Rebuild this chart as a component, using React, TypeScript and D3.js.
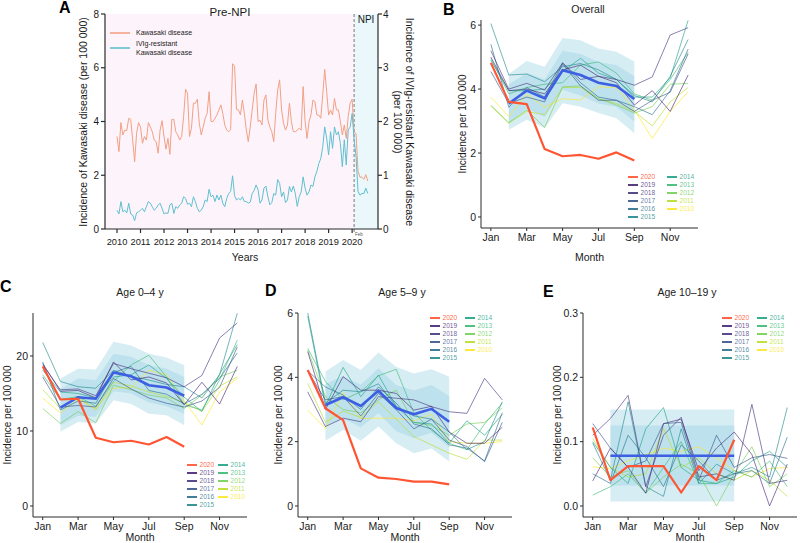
import * as d3 from "d3";

const FONT = "'Liberation Sans', Arial, Helvetica, sans-serif";

// ---------- shared ----------
const years = [2010, 2011, 2012, 2013, 2014, 2015, 2016, 2017, 2018, 2019];
const yearColors = ["#FDE725", "#B8DE29", "#73D055", "#3CBB75", "#20A387", "#238A8D", "#2D708E", "#39568C", "#453781", "#482677"];
const red2020 = "#FF5533";
const meanBlue = "#3D5FE3";
const bandFill = "#8CCBE0";

const monthTickValues = [1, 3, 5, 7, 9, 11];
const monthTickLabels = ["Jan", "Mar", "May", "Jul", "Sep", "Nov"];
const bandMonths = [2, 3, 4, 5, 6, 7, 8, 9];

// ---------- panel A: monthly series Jan 2010 - Sep 2020 ----------
const yearTicks = [2010, 2011, 2012, 2013, 2014, 2015, 2016, 2017, 2018, 2019, 2020];
const kawasakiMonthly = [
  3.44, 2.88, 3.96, 3.5, 3.68, 3.66, 4.12, 4.08, 3.31, 2.5, 3.56, 3.96,
  3.8, 3.19, 3.44, 3.31, 3.96, 3.8, 3.62, 3.31, 3.25, 2.82, 3.68, 4.03,
  3.44, 2.97, 3.37, 2.78, 4.08, 4.08, 3.62, 3.5, 3.31, 3.44, 4.18, 5.2,
  5.05, 3.44, 3.75, 4.68, 4.68, 4.83, 3.93, 3.5, 3.8, 4.12, 4.3, 5.11,
  4.0, 4.0, 4.12, 4.24, 4.43, 4.62, 4.3, 3.87, 3.68, 3.62, 3.7, 6.15,
  6.05, 4.45, 4.43, 4.25, 4.8, 4.3, 3.68, 3.25, 3.8, 4.43, 5.05, 5.4,
  4.0, 4.05, 3.87, 4.8, 4.99, 4.05, 3.8, 3.62, 3.25, 4.3, 5.17, 5.55,
  4.43, 3.93, 3.68, 3.87, 4.68, 4.0, 3.62, 3.62, 3.68, 3.75, 3.68, 5.3,
  4.0, 3.37, 4.0, 4.24, 4.8, 4.74, 4.24, 4.24, 4.12, 4.99, 5.94, 5.11,
  4.24, 4.43, 4.24, 4.86, 4.43, 4.43, 4.0, 3.5, 3.87, 3.37, 4.18, 4.68,
  4.83, 3.6, 3.55, 2.15, 1.93, 1.93, 1.85, 2.02, 1.78,
];
const ivigMonthly = [
  0.35, 0.28, 0.51, 0.32, 0.35, 0.3, 0.48, 0.28, 0.26, 0.155, 0.3, 0.32,
  0.35, 0.385, 0.32, 0.415, 0.51, 0.48, 0.415, 0.35, 0.385, 0.447, 0.48, 0.385,
  0.28, 0.3, 0.29, 0.447, 0.48, 0.29, 0.415, 0.385, 0.447, 0.48, 0.6, 0.57,
  0.46, 0.48, 0.415, 0.6, 0.51, 0.385, 0.32, 0.35, 0.415, 0.54, 0.51, 0.74,
  0.6, 0.63, 0.51, 0.63, 0.54, 0.63, 0.48, 0.415, 0.57, 0.66, 0.7, 0.99,
  0.62, 0.54, 0.57, 0.54, 0.6, 0.51, 0.51, 0.48, 0.5, 0.66, 0.72, 0.82,
  0.73, 0.48, 0.54, 0.76, 0.8, 0.6, 0.45, 0.49, 0.66, 0.63, 0.92, 0.85,
  0.6, 0.69, 0.49, 0.54, 0.79, 0.69, 0.8, 0.66, 0.42, 0.6, 0.69, 0.97,
  0.76, 0.63, 0.69, 0.82, 0.79, 0.97, 1.07, 1.22, 1.31, 1.53, 1.9, 1.69,
  1.38, 1.81, 1.5, 1.9, 1.75, 1.81, 1.59, 1.16, 1.66, 1.19, 1.84, 1.9,
  2.15, 1.66, 1.35, 0.7, 0.63, 0.66, 0.66, 0.76, 0.66,
];

// ---------- panel B: overall ----------
const overallYears = [
  [3.75, 3.14, 3.85, 3.43, 3.7, 3.66, 4.07, 4.05, 3.35, 2.46, 3.3, 3.92],
  [3.47, 2.93, 3.3, 3.2, 4.05, 4.05, 3.7, 3.55, 3.3, 2.85, 3.6, 4.05],
  [3.5, 2.95, 3.35, 2.8, 4.07, 4.1, 3.7, 3.5, 3.25, 3.45, 4.15, 4.18],
  [4.95, 3.85, 4.05, 4.15, 4.2, 4.75, 4.85, 4.5, 3.85, 3.65, 4.3, 5.15],
  [4.9, 3.95, 3.95, 4.0, 4.55, 4.96, 4.5, 4.3, 3.75, 3.75, 4.35, 6.15],
  [6.05, 4.44, 4.47, 4.23, 4.7, 4.8, 4.6, 4.3, 3.8, 3.6, 4.4, 5.55],
  [5.4, 3.43, 4.05, 3.75, 4.82, 4.2, 3.75, 3.65, 3.45, 3.2, 3.95, 5.25],
  [4.55, 3.55, 3.75, 3.6, 4.78, 4.1, 3.65, 3.65, 3.3, 3.65, 3.9, 5.1],
  [5.2, 4.0, 4.18, 3.97, 4.82, 4.3, 4.4, 4.3, 4.12, 4.38, 5.69, 5.92],
  [5.0, 3.95, 4.0, 3.85, 4.6, 4.75, 4.4, 4.2, 3.5, 3.95, 3.3, 4.44],
];
const overall2020 = [4.82, 3.6, 3.53, 2.125, 1.9, 1.94, 1.82, 2.02, 1.77];
const overallMean = [3.55, 3.95, 3.71, 4.59, 4.44, 4.2, 4.1, 3.69];
const overallOuterHi = [4.47, 4.88, 4.7, 5.6, 5.53, 5.27, 5.17, 4.86];
const overallOuterLo = [2.73, 3.04, 2.78, 3.56, 3.45, 3.25, 3.09, 2.62];
const overallInnerHi = [4.15, 4.5, 4.3, 5.2, 5.1, 4.85, 4.75, 4.4];
const overallInnerLo = [2.95, 3.4, 3.12, 3.98, 3.8, 3.55, 3.45, 2.98];

// ---------- panel C: age 0-4 ----------
const age04Years = [
  [14.4, 12.4, 14.2, 13.0, 15.7, 15.8, 18.1, 17.5, 14.0, 10.8, 15.2, 17.0],
  [15.5, 13.0, 14.5, 12.8, 16.5, 16.0, 15.2, 14.6, 13.8, 12.6, 16.0, 17.2],
  [13.0, 11.0, 12.6, 11.1, 16.1, 15.5, 14.8, 14.4, 13.0, 14.8, 17.2, 18.1],
  [17.5, 14.2, 14.6, 13.3, 16.6, 18.8, 20.1, 17.2, 13.5, 12.8, 16.8, 22.1],
  [18.1, 15.2, 15.0, 14.4, 17.2, 17.5, 18.8, 17.0, 14.5, 12.6, 17.6, 21.5],
  [21.8, 16.6, 15.9, 15.7, 18.1, 17.3, 16.8, 16.2, 15.9, 14.4, 17.5, 25.7],
  [19.2, 12.8, 14.0, 13.7, 17.8, 18.6, 15.4, 14.9, 13.6, 14.9, 17.0, 20.4],
  [17.2, 13.2, 13.4, 13.2, 17.0, 15.6, 14.4, 13.7, 13.2, 14.0, 15.8, 21.2],
  [18.8, 15.5, 15.6, 14.7, 19.0, 18.3, 17.7, 17.1, 15.9, 17.4, 22.4, 24.4],
  [19.0, 15.3, 15.4, 14.4, 19.2, 16.8, 17.2, 16.4, 13.5, 16.5, 13.6, 18.6],
];
const age04_2020 = [18.6, 14.2, 14.3, 9.1, 8.5, 8.7, 8.2, 9.2, 7.9];
const age04Mean = [13.1, 14.5, 14.3, 17.8, 17.3, 16.1, 15.8, 14.7];
const age04OuterHi = [17.0, 18.3, 18.2, 21.9, 21.4, 20.3, 19.8, 18.75];
const age04OuterLo = [9.9, 11.2, 11.0, 14.1, 13.6, 12.3, 12.1, 10.75];
const age04InnerHi = [15.6, 17.0, 16.8, 20.3, 19.9, 18.8, 18.3, 17.2];
const age04InnerLo = [10.8, 12.0, 11.9, 15.3, 15.0, 13.8, 13.3, 12.3];

// ---------- panel D: age 5-9 ----------
const age59Years = [
  [2.98, 2.41, 3.52, 2.72, 2.73, 2.73, 2.65, 2.85, 2.0, 1.95, 1.95, 2.0],
  [3.81, 2.6, 2.95, 2.75, 3.24, 2.7, 2.16, 1.9, 1.64, 1.45, 2.05, 2.05],
  [4.85, 3.4, 3.0, 2.9, 3.3, 3.6, 2.6, 2.5, 2.2, 2.55, 2.6, 3.05],
  [4.9, 3.87, 3.3, 3.55, 4.05, 4.25, 2.9, 2.35, 1.95, 1.75, 2.55, 3.2],
  [5.9, 3.1, 4.31, 3.4, 4.07, 3.1, 2.6, 2.55, 1.95, 2.65, 2.2, 2.85],
  [6.0, 3.2, 3.6, 3.55, 3.8, 3.1, 2.8, 2.7, 2.3, 1.75, 2.0, 3.24],
  [4.2, 3.7, 3.45, 3.0, 3.7, 3.2, 2.55, 2.4, 1.9, 1.8, 1.4, 2.9],
  [4.2, 3.3, 3.4, 2.8, 3.5, 3.0, 2.4, 2.7, 2.05, 1.85, 1.38, 2.6],
  [3.55, 2.47, 2.73, 2.62, 3.4, 3.35, 3.3, 3.09, 2.93, 2.88, 3.97, 3.3],
  [4.8, 3.0, 4.02, 3.6, 3.6, 3.5, 2.98, 3.1, 2.3, 1.95, 1.95, 2.45],
];
const age59_2020 = [4.23, 3.04, 2.67, 1.17, 0.88, 0.84, 0.76, 0.76, 0.67];
const age59Mean = [3.14, 3.38, 3.11, 3.58, 3.04, 2.85, 3.02, 2.62];
const age59OuterHi = [4.18, 4.54, 4.23, 4.77, 4.33, 4.12, 4.25, 4.02];
const age59OuterLo = [2.03, 2.36, 2.03, 2.47, 1.95, 1.64, 1.79, 1.38];
const age59InnerHi = [3.79, 4.04, 3.77, 4.28, 3.76, 3.59, 3.76, 3.42];
const age59InnerLo = [2.49, 2.72, 2.45, 2.88, 2.32, 2.11, 2.28, 1.82];

// ---------- panel E: age 10-19 ----------
const age1019Years = [
  [0.061, 0.058, 0.07, 0.08, 0.09, 0.085, 0.092, 0.075, 0.055, 0.045, 0.058, 0.06],
  [0.105, 0.06, 0.045, 0.05, 0.12, 0.06, 0.075, 0.05, 0.04, 0.055, 0.04, 0.015],
  [0.075, 0.045, 0.055, 0.02, 0.045, 0.065, 0.05, 0.0, 0.05, 0.092, 0.03, 0.05],
  [0.017, 0.03, 0.05, 0.02, 0.06, 0.1, 0.035, 0.035, 0.055, 0.045, 0.07, 0.03],
  [0.1, 0.06, 0.035, 0.12, 0.153, 0.06, 0.04, 0.035, 0.045, 0.07, 0.085, 0.06],
  [0.098, 0.04, 0.162, 0.03, 0.015, 0.12, 0.035, 0.065, 0.05, 0.06, 0.045, 0.153],
  [0.05, 0.035, 0.11, 0.075, 0.03, 0.095, 0.07, 0.04, 0.05, 0.055, 0.035, 0.107],
  [0.128, 0.09, 0.06, 0.07, 0.128, 0.13, 0.04, 0.11, 0.06, 0.075, 0.08, 0.074],
  [0.11, 0.136, 0.172, 0.03, 0.11, 0.138, 0.045, 0.05, 0.04, 0.158, 0.035, 0.04],
  [0.039, 0.09, 0.06, 0.02, 0.128, 0.135, 0.055, 0.09, 0.115, 0.08, 0.0, 0.065],
];
const age1019_2020 = [0.122, 0.04, 0.062, 0.062, 0.062, 0.021, 0.062, 0.04, 0.103];
const age1019Mean = [0.078, 0.078, 0.078, 0.078, 0.078, 0.078, 0.078, 0.078];
const age1019OuterHi = [0.15, 0.15, 0.15, 0.15, 0.15, 0.15, 0.15, 0.15];
const age1019OuterLo = [0.007, 0.007, 0.007, 0.007, 0.007, 0.007, 0.007, 0.007];
const age1019InnerHi = [0.125, 0.125, 0.125, 0.125, 0.125, 0.125, 0.125, 0.125];
const age1019InnerLo = [0.032, 0.032, 0.032, 0.032, 0.032, 0.032, 0.032, 0.032];

const AXIS = "#2b2b2b";
const TXT = "#1a1a1a";

function PanelA() {
  const x = d3.scaleLinear().domain([2009.49, 2021.1]).range([105, 378]);
  const yL = d3.scaleLinear().domain([0, 8]).range([229, 14]);
  const yR = d3.scaleLinear().domain([0, 4]).range([229, 14]);
  const t = (i: number) => 2010 + i / 12;
  const kdLine = d3.line<number>().x((_, i) => x(t(i))).y((d) => yL(d));
  const ivLine = d3.line<number>().x((_, i) => x(t(i))).y((d) => yR(d));
  const npi = x(2020 + 1 / 12);
  const [xl, xr] = x.range();
  const [yb, yt] = yL.range();
  return (
    <g fontFamily={FONT}>
      <rect x={xl} y={yt} width={npi - xl} height={yb - yt} fill="#FDF4FB" />
      <rect x={npi} y={yt} width={xr - npi} height={yb - yt} fill="#EAF8FB" />
      <line x1={npi} x2={npi} y1={yt} y2={yb + 3} stroke="#777" strokeWidth={1} strokeDasharray="3,2" />
      <text x={npi + 1} y={yb + 7} fontSize={4.5} fill="#555">Feb</text>
      <path d={kdLine(kawasakiMonthly) || ""} fill="none" stroke="#F2A084" strokeWidth={1} />
      <path d={ivLine(ivigMonthly) || ""} fill="none" stroke="#5EC0D0" strokeWidth={1} />
      {/* axes */}
      <line x1={xl} x2={xl} y1={yt} y2={yb} stroke={AXIS} strokeWidth={1.2} />
      <line x1={xr} x2={xr} y1={yt} y2={yb} stroke={AXIS} strokeWidth={1.2} />
      <line x1={xl} x2={xr} y1={yb} y2={yb} stroke={AXIS} strokeWidth={1.2} />
      {yL.ticks(4).map((v) => (
        <g key={"l" + v}>
          <line x1={xl - 4} x2={xl} y1={yL(v)} y2={yL(v)} stroke={AXIS} strokeWidth={1.2} />
          <text x={xl - 6} y={yL(v)} dy="0.35em" textAnchor="end" fontSize={10} fill={TXT}>{v}</text>
        </g>
      ))}
      {yR.ticks(4).map((v) => (
        <g key={"r" + v}>
          <line x1={xr} x2={xr + 4} y1={yR(v)} y2={yR(v)} stroke={AXIS} strokeWidth={1.2} />
          <text x={xr + 5} y={yR(v)} dy="0.35em" textAnchor="start" fontSize={10} fill={TXT}>{v}</text>
        </g>
      ))}
      {yearTicks.map((yr) => (
        <g key={yr}>
          <line x1={x(yr)} x2={x(yr)} y1={yb} y2={yb + 4} stroke={AXIS} strokeWidth={1.2} />
          <text x={x(yr)} y={yb + 16} textAnchor="middle" fontSize={9.3} fill={TXT}>{yr}</text>
        </g>
      ))}
      <text x={245} y={261} textAnchor="middle" fontSize={10.5} fill={TXT}>Years</text>
      <text x={230} y={16} textAnchor="middle" fontSize={11.5} fill={TXT}>Pre-NPI</text>
      <text x={366} y={23} textAnchor="middle" fontSize={10} fill={TXT}>NPI</text>
      <text transform="translate(83,122) rotate(-90)" textAnchor="middle" dominantBaseline="central" fontSize={10.5} fill={TXT}>
        Incidence of Kawasaki disease (per 100 000)
      </text>
      <text transform="translate(410,122) rotate(90)" textAnchor="middle" dominantBaseline="central" fontSize={10.5} fill={TXT}>
        Incidence of IVIg-resistant  Kawasaki disease
      </text>
      <text transform="translate(398,122) rotate(90)" textAnchor="middle" dominantBaseline="central" fontSize={10.5} fill={TXT}>
        (per 100 000)
      </text>
      {/* legend */}
      <line x1={110} x2={130} y1={33} y2={33} stroke="#F2A084" strokeWidth={1.6} />
      <text x={136} y={33} dy="0.35em" fontSize={7} fill={TXT}>Kawasaki disease</text>
      <line x1={110} x2={130} y1={48} y2={48} stroke="#5EC0D0" strokeWidth={1.6} />
      <text x={136} y={44} dy="0.35em" fontSize={7} fill={TXT}>IVIg-resistant</text>
      <text x={136} y={53} dy="0.35em" fontSize={7} fill={TXT}>Kawasaki disease</text>
      <text x={59} y={13} fontSize={16} fontWeight="bold" fill="#000">A</text>
    </g>
  );
}

interface PanelProps {
  letter: string;
  letterX: number;
  letterY: number;
  title: string;
  titleX: number;
  titleY: number;
  x0: number;
  x1: number;
  yDomain: [number, number];
  yTop: number;
  yBottom: number;
  yTicks: number[];
  tickFormat: (v: number) => string;
  yLabelX: number;
  monthLabelY: number;
  monthTitleY: number;
  lines: number[][];
  line2020: number[];
  mean: number[];
  outerHi: number[];
  outerLo: number[];
  innerHi: number[];
  innerLo: number[];
  legendX1: number;
  legendX2: number;
  legendY: number;
}

function MonthPanel(p: PanelProps) {
  const x = d3.scaleLinear().domain([0.45, 12.55]).range([p.x0, p.x1]);
  const y = d3.scaleLinear().domain(p.yDomain).range([p.yBottom, p.yTop]);
  const yearLine = d3.line<number>().x((_, i) => x(i + 1)).y((d) => y(d));
  const bandLine = d3.line<number>().x((_, i) => x(bandMonths[i])).y((d) => y(d));
  const band = (hi: number[], lo: number[]) =>
    d3
      .area<number>()
      .x((_, i) => x(bandMonths[i]))
      .y0((_, i) => y(lo[i]))
      .y1((d) => y(d))(hi) || "";
  const col1 = [2020, 2019, 2018, 2017, 2016, 2015];
  const col2 = [2014, 2013, 2012, 2011, 2010];
  const colorOf = (yr: number) => (yr === 2020 ? red2020 : yearColors[years.indexOf(yr)]);
  const legendItem = (yr: number, i: number, lx: number) => (
    <g key={yr}>
      <line x1={lx} x2={lx + 10} y1={p.legendY + i * 8} y2={p.legendY + i * 8} stroke={colorOf(yr)} strokeWidth={1.8} />
      <text x={lx + 12.5} y={p.legendY + i * 8} dy="0.35em" fontSize={6.6} fill={colorOf(yr)} fillOpacity={yr === 2020 ? 0.9 : 0.8}>
        {yr}
      </text>
    </g>
  );
  return (
    <g fontFamily={FONT}>
      <path d={band(p.outerHi, p.outerLo)} fill={bandFill} fillOpacity={0.35} />
      <path d={band(p.innerHi, p.innerLo)} fill={bandFill} fillOpacity={0.35} />
      {p.lines.map((vals, i) => (
        <path key={years[i]} d={yearLine(vals) || ""} fill="none" stroke={yearColors[i]} strokeWidth={0.85} strokeOpacity={0.75} />
      ))}
      <path d={bandLine(p.mean) || ""} fill="none" stroke={meanBlue} strokeWidth={2.6} />
      <path d={yearLine(p.line2020) || ""} fill="none" stroke={red2020} strokeWidth={2.2} strokeLinejoin="round" />
      {/* axes */}
      <line x1={p.x0} x2={p.x0} y1={p.yTop} y2={p.yBottom} stroke={AXIS} strokeWidth={1} />
      <line x1={p.x0} x2={p.x1} y1={p.yBottom} y2={p.yBottom} stroke={AXIS} strokeWidth={1} />
      {p.yTicks.map((v) => (
        <g key={v}>
          <line x1={p.x0 - 3} x2={p.x0} y1={y(v)} y2={y(v)} stroke={AXIS} strokeWidth={1} />
          <text x={p.x0 - 5} y={y(v)} dy="0.35em" textAnchor="end" fontSize={10.5} fill={TXT}>{p.tickFormat(v)}</text>
        </g>
      ))}
      {monthTickValues.map((m, i) => (
        <g key={m}>
          <line x1={x(m)} x2={x(m)} y1={p.yBottom} y2={p.yBottom + 3} stroke={AXIS} strokeWidth={1} />
          <text x={x(m)} y={p.monthLabelY} textAnchor="middle" fontSize={10.5} fill={TXT}>{monthTickLabels[i]}</text>
        </g>
      ))}
      <text x={(p.x0 + p.x1) / 2} y={p.monthTitleY} textAnchor="middle" fontSize={10.5} fill={TXT}>Month</text>
      <text
        transform={`translate(${p.yLabelX},${(p.yTop + p.yBottom) / 2}) rotate(-90)`}
        textAnchor="middle"
        dominantBaseline="central"
        fontSize={10}
        fill={TXT}
      >
        Incidence per 100 000
      </text>
      <text x={p.titleX} y={p.titleY} textAnchor="middle" fontSize={10.5} fill={TXT}>{p.title}</text>
      <text x={p.letterX} y={p.letterY} fontSize={16} fontWeight="bold" fill="#000">{p.letter}</text>
      {col1.map((yr, i) => legendItem(yr, i, p.legendX1))}
      {col2.map((yr, i) => legendItem(yr, i, p.legendX2))}
    </g>
  );
}

const intFmt = d3.format("d");
const decFmt = d3.format(".1f");

export default function App() {
  return (
    <svg width={800} height={543} style={{ position: "absolute", left: 0, top: 0, background: "#fff" }}>
      <rect width={800} height={543} fill="#fff" />
      <PanelA />
      <MonthPanel
        letter="B" letterX={443} letterY={15}
        title="Overall" titleX={588} titleY={12.5}
        x0={481} x1={698} yDomain={[-0.344, 6.16]} yTop={20} yBottom={228}
        yTicks={[0, 2, 4, 6]} tickFormat={intFmt} yLabelX={462}
        monthLabelY={241} monthTitleY={261}
        lines={overallYears} line2020={overall2020} mean={overallMean}
        outerHi={overallOuterHi} outerLo={overallOuterLo} innerHi={overallInnerHi} innerLo={overallInnerLo}
        legendX1={628} legendX2={667} legendY={177}
      />
      <MonthPanel
        letter="C" letterX={0} letterY={292}
        title="Age 0–4 y" titleX={140} titleY={296}
        x0={33} x1={247} yDomain={[-1.467, 25.73]} yTop={313} yBottom={517}
        yTicks={[0, 10, 20]} tickFormat={intFmt} yLabelX={7}
        monthLabelY={530} monthTitleY={541}
        lines={age04Years} line2020={age04_2020} mean={age04Mean}
        outerHi={age04OuterHi} outerLo={age04OuterLo} innerHi={age04InnerHi} innerLo={age04InnerLo}
        legendX1={187} legendX2={218} legendY={465}
      />
      <MonthPanel
        letter="D" letterX={265} letterY={296}
        title="Age 5–9 y" titleX={402} titleY={296}
        x0={298} x1={512} yDomain={[-0.342, 6.0]} yTop={313} yBottom={517}
        yTicks={[0, 2, 4, 6]} tickFormat={intFmt} yLabelX={278}
        monthLabelY={530} monthTitleY={541}
        lines={age59Years} line2020={age59_2020} mean={age59Mean}
        outerHi={age59OuterHi} outerLo={age59OuterLo} innerHi={age59InnerHi} innerLo={age59InnerLo}
        legendX1={430} legendX2={465} legendY={318}
      />
      <MonthPanel
        letter="E" letterX={543} letterY={297}
        title="Age 10–19 y" titleX={687} titleY={296}
        x0={583} x1={797} yDomain={[-0.0171, 0.3]} yTop={313} yBottom={517}
        yTicks={[0, 0.1, 0.2, 0.3]} tickFormat={decFmt} yLabelX={557}
        monthLabelY={530} monthTitleY={541}
        lines={age1019Years} line2020={age1019_2020} mean={age1019Mean}
        outerHi={age1019OuterHi} outerLo={age1019OuterLo} innerHi={age1019InnerHi} innerLo={age1019InnerLo}
        legendX1={722} legendX2={757} legendY={318}
      />
    </svg>
  );
}
